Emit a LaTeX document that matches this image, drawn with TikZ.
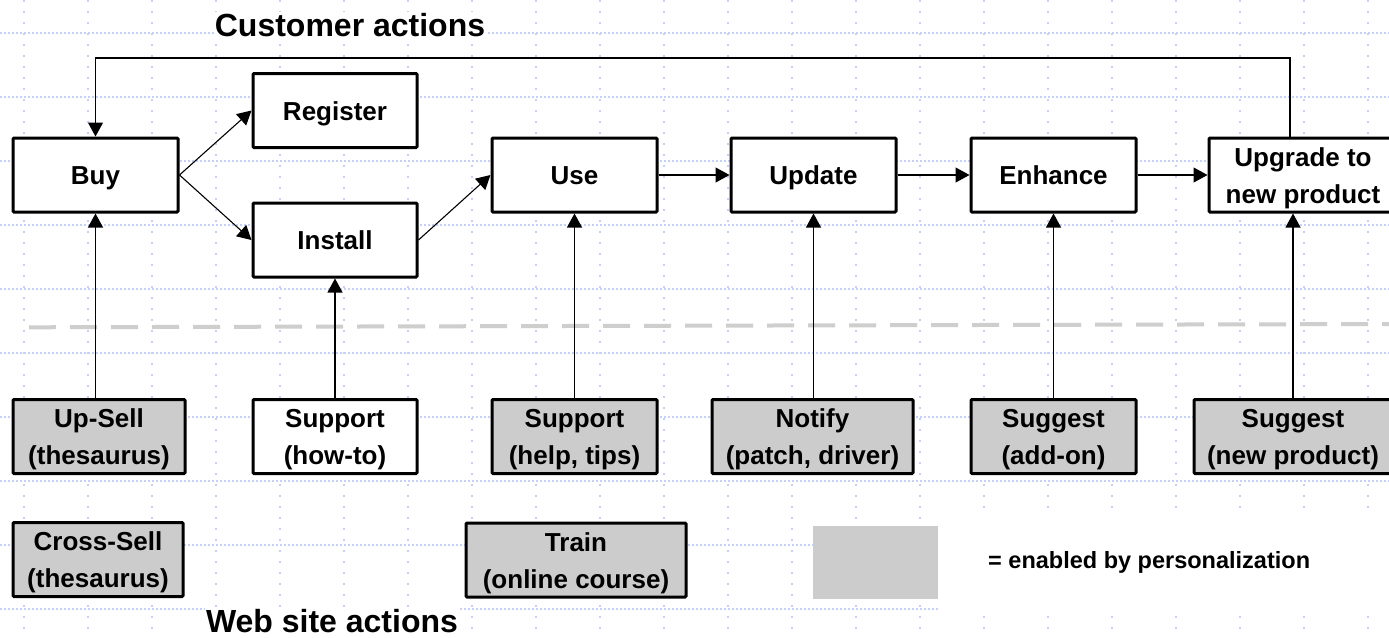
\documentclass[tikz,border=0pt]{standalone}
\usepackage{fontspec}
\setmainfont{Liberation Sans}
\usetikzlibrary{arrows.meta}

\definecolor{gridblue}{RGB}{196,208,246}
\definecolor{persgray}{RGB}{204,204,204}
\definecolor{sepgray}{RGB}{206,206,206}

\newcommand\boxfont{\fontsize{26pt}{37pt}\selectfont\bfseries}
\newcommand\headfont{\fontsize{32pt}{38pt}\selectfont\bfseries}
\newcommand\notefont{\fontsize{23.5pt}{28pt}\selectfont\bfseries}

\tikzset{
  actbox/.style={draw=black, line width=3pt, fill=white, rounded corners=1pt,
    font=\boxfont, align=center, inner sep=0pt, minimum height=74pt,
    text height=19pt, text depth=0pt},
  twoline/.style={text height=56pt, text depth=0pt},
  persbox/.style={actbox, fill=persgray},
  conn/.style={line width=1.1pt, -{Triangle[length=14pt,width=15pt]}},
  heading/.style={font=\headfont, fill=white, inner sep=1pt},
  gridh/.style={gridblue, line width=1.2pt, dash pattern=on 1.6pt off 2.4pt},
  gridv/.style={gridblue, line width=1.2pt, dash pattern=on 2pt off 9pt},
}

\begin{document}
\begin{tikzpicture}[x=1pt, y=-1pt]
  \clip (0,0) rectangle (1389,637);
  \fill[white] (0,0) rectangle (1389,637);

  % background grid
  \foreach \gx in {24,88,...,1368}
    \draw[gridv] (\gx,0) -- (\gx,637);
  \foreach \gy in {33,97,...,481}
    \draw[gridh] (0,\gy) -- (1389,\gy);
  \foreach \gy in {545,609}
    \draw[gridh] (0,\gy) -- (940,\gy);
  \fill[white] (940,516) rectangle (1389,612);

  % boundary between customer and web site actions
  \draw[sepgray, line width=4pt, dash pattern=on 27pt off 14pt]
    (29,327.3) -- (1389,324);

  % headings
  \node[heading, anchor=base] (custhead) at (350,36) {Customer actions};
  \node[heading, anchor=base] (webhead) at (332,632) {Web site actions};

  % customer actions
  \node[actbox, minimum width=165pt] (buy)      at (95.5,175)  {Buy};
  \node[actbox, minimum width=164pt] (register) at (335,110.5) {Register};
  \node[actbox, minimum width=164pt] (install)  at (335,240)   {Install};
  \node[actbox, minimum width=165pt] (use)      at (574.5,175) {Use};
  \node[actbox, minimum width=165pt] (update)   at (813.5,175) {Update};
  \node[actbox, minimum width=165pt] (enhance)  at (1053.5,175) {Enhance};
  \node[actbox, twoline, minimum width=188pt] (upgrade) at (1303,175) {Upgrade to\\new product};

  % web site actions
  \node[persbox, twoline, minimum width=172pt] (upsell)  at (99,436.5)    {Up-Sell\\(thesaurus)};
  \node[actbox,  twoline, minimum width=164pt] (howto)   at (335,436.5)   {Support\\(how-to)};
  \node[persbox, twoline, minimum width=165pt] (help)    at (574.5,436.5) {Support\\(help, tips)};
  \node[persbox, twoline, minimum width=201pt] (notify)  at (812.5,436.5) {Notify\\(patch, driver)};
  \node[persbox, twoline, minimum width=165pt] (addon)   at (1053.5,436.5) {Suggest\\(add-on)};
  \node[persbox, twoline, minimum width=198pt] (newprod) at (1293,436.5)  {Suggest\\(new product)};
  \node[persbox, twoline, minimum width=170pt] (cross)   at (98,559.5)    {Cross-Sell\\(thesaurus)};
  \node[persbox, twoline, minimum width=220pt] (train)   at (576,560)     {Train\\(online course)};

  % legend
  \node[fill=persgray, minimum width=125pt, minimum height=73pt, inner sep=0pt] (legbox) at (875.5,562.5) {};
  \node[font=\notefont, anchor=west, inner sep=0pt] (legtext) at (988,562) {= enabled by personalization};

  % flow between customer actions
  \draw[conn] (buy.east) -- (register.west);
  \draw[conn] (buy.east) -- (install.west);
  \draw[conn] (install.east) -- (use.west);
  \draw[conn] (use.east) -- (update.west);
  \draw[conn] (update.east) -- (enhance.west);
  \draw[conn] (enhance.east) -- (upgrade.west);

  % loop back from upgrade to buy
  \coordinate (looptop) at (1290,58);
  \draw[conn] (looptop |- upgrade.north) -- (looptop) -| (buy.north);

  % web site actions supporting customer actions
  \draw[conn] (buy.south |- upsell.north) -- (buy.south);
  \draw[conn] (howto.north) -- (install.south);
  \draw[conn] (help.north) -- (use.south);
  \draw[conn] (update.south |- notify.north) -- (update.south);
  \draw[conn] (addon.north) -- (enhance.south);
  \draw[conn] (newprod.north) -- (newprod.north |- upgrade.south);
\end{tikzpicture}
\end{document}
